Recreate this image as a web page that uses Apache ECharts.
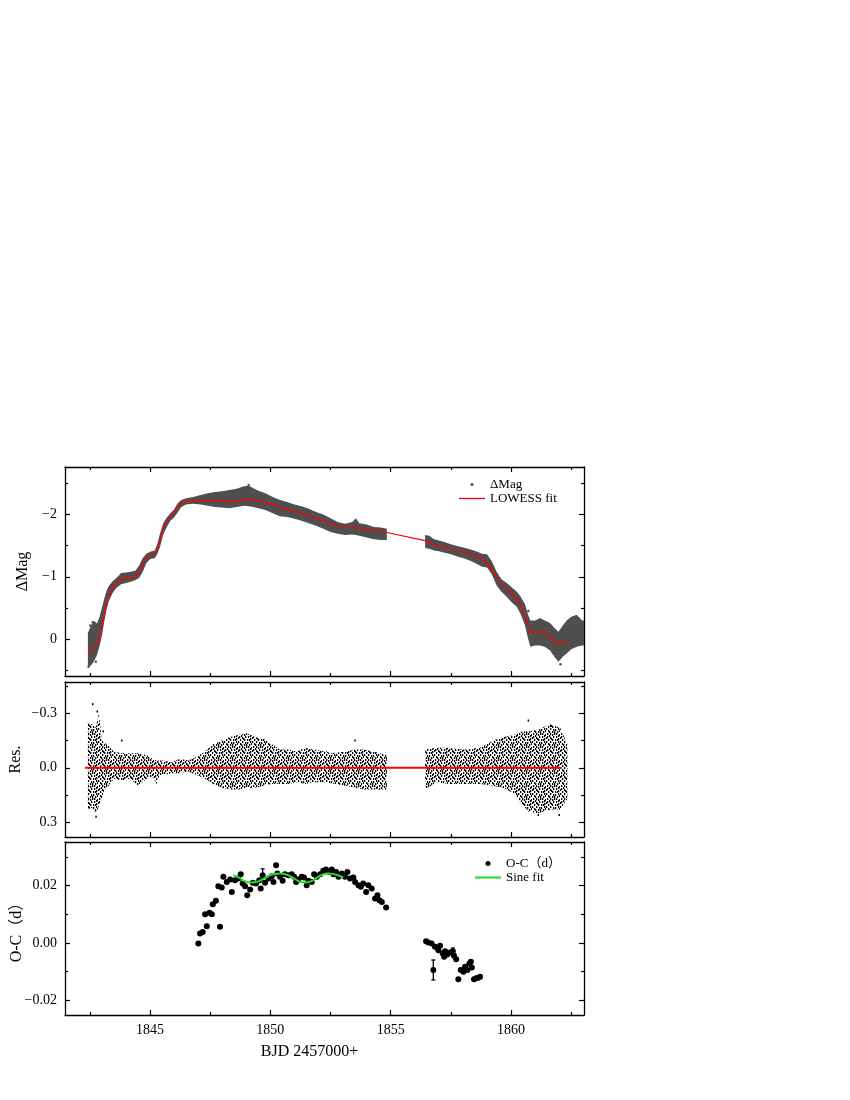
<!DOCTYPE html>
<html><head><meta charset="utf-8">
<script src="https://cdn.jsdelivr.net/npm/echarts@6.0.0/dist/echarts.min.js"></script>
<style>html,body{margin:0;padding:0;background:#fff}#c{width:850px;height:1100px}</style>
</head><body><div id="c"></div>
<script>
// ---------- tick labels ----------
const xTickLabels = [1845, 1850, 1855, 1860];
const xMinorTicks = [1842.5, 1847.5, 1852.5, 1857.5, 1862.5];
const magTicks = [-2, -1, 0];
const magMinorTicks = [-2.5, -1.5, -0.5, 0.5];
const resTicks = [-0.3, 0, 0.3];
const resMinorTicks = [-0.45, -0.15, 0.15];
const ocTicks = [-0.02, 0, 0.02];
const ocMinorTicks = [-0.01, 0.01, 0.03];

// ---------- panel 1: Delta Mag (envelope of dense points) ----------
const magBandT1 = [1842.42,1842.55,1842.68,1842.8,1842.9,1843.0,1843.1,1843.2,1843.3,1843.45,1843.6,1843.8,1844.0,1844.2,1844.4,1844.55,1844.7,1844.85,1845.0,1845.2,1845.3,1845.42,1845.55,1845.7,1845.85,1846.0,1846.15,1846.3,1846.5,1846.8,1847.1,1847.4,1847.7,1848.0,1848.3,1848.6,1848.9,1849.1,1849.3,1849.5,1849.8,1850.1,1850.4,1850.7,1851.0,1851.3,1851.6,1851.9,1852.2,1852.5,1852.8,1853.1,1853.4,1853.55,1853.7,1854.0,1854.3,1854.6,1854.84];
const magBandTop1 = [-0.10,-0.22,-0.29,-0.25,-0.35,-0.50,-0.65,-0.78,-0.86,-0.93,-0.98,-1.06,-1.07,-1.08,-1.10,-1.18,-1.30,-1.37,-1.40,-1.42,-1.52,-1.70,-1.86,-1.95,-2.02,-2.08,-2.18,-2.23,-2.26,-2.28,-2.31,-2.34,-2.36,-2.37,-2.39,-2.41,-2.45,-2.46,-2.42,-2.38,-2.34,-2.28,-2.23,-2.20,-2.16,-2.13,-2.09,-2.04,-2.00,-1.94,-1.88,-1.85,-1.88,-1.94,-1.86,-1.84,-1.80,-1.79,-1.77];
const magBandBot1 = [0.45,0.42,0.35,0.25,0.12,-0.05,-0.28,-0.48,-0.62,-0.74,-0.82,-0.88,-0.90,-0.92,-0.95,-0.98,-1.08,-1.22,-1.28,-1.30,-1.36,-1.48,-1.68,-1.80,-1.90,-1.95,-2.03,-2.12,-2.16,-2.17,-2.16,-2.14,-2.12,-2.11,-2.10,-2.12,-2.14,-2.13,-2.12,-2.10,-2.07,-2.02,-1.97,-1.96,-1.93,-1.90,-1.86,-1.82,-1.77,-1.72,-1.69,-1.67,-1.68,-1.67,-1.66,-1.63,-1.60,-1.59,-1.59];
const magBandT2 = [1856.43,1856.6,1856.8,1857.0,1857.2,1857.5,1857.8,1858.1,1858.4,1858.6,1858.8,1859.0,1859.2,1859.4,1859.6,1859.82,1860.0,1860.24,1860.4,1860.58,1860.7,1860.8,1861.0,1861.2,1861.4,1861.62,1861.8,1861.97,1862.15,1862.31,1862.5,1862.73,1862.95,1863.03];
const magBandTop2 = [-1.67,-1.66,-1.60,-1.58,-1.56,-1.52,-1.49,-1.46,-1.43,-1.40,-1.37,-1.36,-1.25,-1.08,-0.96,-0.90,-0.84,-0.76,-0.68,-0.56,-0.40,-0.30,-0.30,-0.34,-0.30,-0.26,-0.18,-0.12,-0.22,-0.30,-0.36,-0.39,-0.30,-0.30];
const magBandBot2 = [-1.46,-1.45,-1.42,-1.41,-1.39,-1.36,-1.32,-1.29,-1.24,-1.20,-1.16,-1.15,-1.04,-0.86,-0.76,-0.68,-0.60,-0.52,-0.40,-0.22,-0.02,0.12,0.10,0.10,0.12,0.18,0.28,0.36,0.28,0.23,0.16,0.12,0.10,0.10];
const magOutlierT = [1842.45,1842.52,1842.62,1842.75,1849.1,1860.72,1862.05];
const magOutlierV = [0.44,-0.22,-0.27,0.36,-2.47,-0.45,0.40];
const lowessT = [1842.44,1842.6,1842.72,1842.86,1842.92,1843.0,1843.06,1843.2,1843.41,1843.6,1843.76,1844.0,1844.31,1844.45,1844.59,1844.7,1844.8,1844.95,1845.21,1845.32,1845.42,1845.52,1845.63,1845.9,1846.05,1846.25,1846.5,1847.08,1847.77,1848.46,1848.8,1849.02,1849.43,1849.85,1850.2,1850.54,1851.23,1851.93,1852.62,1853.03,1853.8,1854.84,1856.43,1856.8,1857.2,1857.6,1858.3,1858.85,1859.13,1859.41,1859.82,1860.24,1860.4,1860.58,1860.79,1861.0,1861.2,1861.34,1861.62,1861.9,1862.24,1862.3];
const lowessV = [0.23,0.17,0.12,0.02,-0.06,-0.20,-0.32,-0.57,-0.79,-0.89,-0.95,-0.98,-1.00,-1.03,-1.09,-1.20,-1.29,-1.33,-1.36,-1.45,-1.59,-1.76,-1.86,-1.99,-2.06,-2.17,-2.21,-2.22,-2.22,-2.20,-2.22,-2.25,-2.22,-2.19,-2.15,-2.10,-2.03,-1.94,-1.83,-1.79,-1.78,-1.71,-1.58,-1.52,-1.47,-1.43,-1.37,-1.27,-1.16,-0.97,-0.81,-0.65,-0.55,-0.39,-0.12,-0.09,-0.13,-0.12,-0.06,0.07,0.06,0.05];

// ---------- panel 2: residuals (envelope) ----------
const resBandT1 = [1842.42,1842.6,1842.75,1842.88,1843.0,1843.1,1843.27,1843.5,1843.83,1844.17,1844.52,1844.86,1845.1,1845.28,1845.4,1845.55,1845.9,1846.25,1846.59,1846.94,1847.29,1847.63,1847.98,1848.33,1848.67,1849.02,1849.36,1849.71,1850.06,1850.4,1850.75,1851.1,1851.44,1851.79,1852.34,1852.48,1853.17,1853.52,1853.86,1854.28,1854.84];
const resBandTop1 = [-0.25,-0.24,-0.22,-0.30,-0.15,-0.14,-0.12,-0.09,-0.08,-0.08,-0.08,-0.07,-0.05,-0.04,-0.04,-0.04,-0.03,-0.05,-0.04,-0.06,-0.09,-0.13,-0.15,-0.17,-0.18,-0.19,-0.17,-0.16,-0.13,-0.10,-0.10,-0.09,-0.11,-0.10,-0.09,-0.08,-0.09,-0.10,-0.10,-0.09,-0.07];
const resBandBot1 = [0.23,0.22,0.25,0.21,0.17,0.12,0.10,0.06,0.07,0.06,0.10,0.06,0.05,0.09,0.04,0.04,0.03,0.03,0.02,0.04,0.06,0.09,0.11,0.12,0.12,0.11,0.11,0.10,0.09,0.09,0.09,0.08,0.09,0.08,0.08,0.085,0.10,0.11,0.12,0.12,0.12];
const resBandT2 = [1856.43,1856.91,1857.4,1858.02,1858.71,1859.26,1859.68,1860.1,1860.44,1860.72,1861.13,1861.62,1862.04,1862.34];
const resBandTop2 = [-0.10,-0.11,-0.11,-0.10,-0.11,-0.15,-0.17,-0.18,-0.20,-0.20,-0.21,-0.24,-0.22,-0.13];
const resBandBot2 = [0.12,0.08,0.09,0.09,0.09,0.10,0.11,0.14,0.20,0.24,0.25,0.23,0.23,0.17];
const resOutlierT = [1842.62,1842.81,1842.76,1842.48,1843.06,1843.83,1853.52,1860.72,1861.65,1861.13,1862.0];
const resOutlierV = [-0.35,-0.31,0.27,0.22,-0.20,-0.15,-0.15,-0.26,-0.23,0.26,0.26];
const resZeroT = [1842.3, 1862.1];
const resZeroV = [0, 0];

// ---------- panel 3: O-C ----------
const ocT = [1847.01,1847.08,1847.19,1847.36,1847.29,1847.47,1847.57,1847.61,1847.74,1847.91,1847.84,1847.98,1848.05,1848.19,1848.4,1848.33,1848.53,1848.67,1848.77,1848.85,1848.95,1849.04,1849.16,1849.27,1849.41,1849.54,1849.6,1849.68,1849.78,1849.92,1850.06,1850.13,1850.24,1850.29,1850.4,1850.51,1850.61,1850.75,1850.89,1850.99,1851.07,1851.16,1851.3,1851.4,1851.51,1851.58,1851.72,1851.82,1851.93,1852.07,1852.2,1852.31,1852.45,1852.55,1852.62,1852.73,1852.83,1852.97,1853.1,1853.2,1853.31,1853.45,1853.52,1853.66,1853.76,1853.86,1853.98,1854.07,1854.21,1854.35,1854.45,1854.53,1854.63,1854.81,
  1856.47,1856.56,1856.7,1856.77,1856.84,1856.98,1857.05,1857.16,1857.26,1857.22,1857.35,1857.47,1857.58,1857.63,1857.72,1857.81,1857.91,1858.02,1858.09,1858.19,1858.27,1858.33,1858.37,1858.46,1858.55,1858.64,1858.71];
const ocV = [-0.0002,0.0033,0.0038,0.0058,0.0100,0.0105,0.0100,0.0135,0.0147,0.0056,0.0198,0.0194,0.0231,0.0213,0.0178,0.0222,0.0219,0.0225,0.0240,0.0208,0.0198,0.0167,0.0187,0.0210,0.0208,0.0219,0.0190,0.0237,0.0210,0.0225,0.0233,0.0213,0.0272,0.0243,0.0231,0.0217,0.0240,0.0237,0.0240,0.0231,0.0213,0.0222,0.0231,0.0229,0.0202,0.0217,0.0213,0.0240,0.0231,0.0240,0.0252,0.0257,0.0248,0.0257,0.0240,0.0248,0.0231,0.0243,0.0231,0.0248,0.0225,0.0229,0.0213,0.0202,0.0196,0.0208,0.0178,0.0202,0.0190,0.0155,0.0167,0.0149,0.0143,0.0124,
  0.0006,0.0001,-0.0002,-0.0095,-0.0014,-0.0026,-0.0010,-0.0037,-0.0029,-0.0049,-0.0041,-0.0034,-0.0029,-0.0045,-0.0057,-0.0127,-0.0095,-0.0101,-0.0084,-0.0095,-0.0072,-0.0066,-0.0086,-0.0127,-0.0124,-0.0122,-0.0119];
const ocErrT = [1849.68, 1856.77, 1857.58];
const ocErrLo = [0.0218, -0.0130, -0.0042];
const ocErrHi = [0.0259, -0.0060, -0.0018];
const sineT = [1848.46,1848.7,1848.95,1849.23,1849.5,1849.8,1850.1,1850.4,1850.7,1851.0,1851.2,1851.44,1851.7,1851.95,1852.2,1852.41,1852.7,1853.03];
const sineV = [0.0237,0.0228,0.0215,0.0211,0.0215,0.0228,0.0240,0.0243,0.0238,0.0225,0.0215,0.0211,0.0216,0.0229,0.0240,0.0243,0.0239,0.0229];

// ---------- build ----------
const FONT = "'Liberation Serif','Noto Sans CJK SC',serif";
const X_MIN = 1841.47, X_MAX = 1863.03;
const zip = (a, b) => a.map((v, i) => [v, b[i]]);
const minus = s => s.replace('-', '\u2212');

const grids = [
  {left: 65, right: 266, top: 467, height: 209, outerBoundsMode: 'none', containLabel: false},
  {left: 65, right: 266, top: 682, height: 155, outerBoundsMode: 'none', containLabel: false},
  {left: 65, right: 266, top: 842, height: 173, outerBoundsMode: 'none', containLabel: false}
];
const yDefs = [
  {min: -2.76, max: 0.59, inverse: true, major: magTicks, minor: magMinorTicks,
   fmt: v => minus(String(v)), name: '\u0394Mag', gap: 34},
  {min: -0.472, max: 0.381, inverse: true, major: resTicks, minor: resMinorTicks,
   fmt: v => minus(v.toFixed(1)), name: 'Res.', gap: 41},
  {min: -0.02525, max: 0.0353, inverse: false, major: ocTicks, minor: ocMinorTicks,
   fmt: v => minus(v.toFixed(2)), name: 'O-C\uff08d\uff09', gap: 40}
];

function axis(gi, min, max, pos, ticks, len, showLine, labels, fmt, inverse) {
  return {
    type: 'value', gridIndex: gi, min: min, max: max, position: pos, inverse: !!inverse,
    axisLine: {show: showLine, onZero: false, lineStyle: {color: '#000', width: 1.3}},
    axisTick: {show: true, inside: true, length: len, customValues: ticks, lineStyle: {color: '#000', width: 1.2}},
    axisLabel: {show: !!labels, customValues: labels || [], formatter: fmt,
      color: '#000', fontSize: 14, fontFamily: FONT, margin: 8},
    splitLine: {show: false}, minorTick: {show: false}, splitArea: {show: false}
  };
}

const xAxes = [], yAxes = [];
grids.forEach((g, gi) => {
  const xb = axis(gi, X_MIN, X_MAX, 'bottom', xTickLabels, 5, true, gi === 2 ? xTickLabels : null, v => String(v));
  if (gi === 2) {
    xb.name = 'BJD 2457000+';
    xb.nameLocation = 'middle';
    xb.nameGap = 29;
    xb.nameMoveOverlap = false;
    xb.nameTextStyle = {fontSize: 16, fontFamily: FONT, color: '#000', padding: [0, 30, 0, 0]};
  }
  xAxes.push(xb);
  xAxes.push(axis(gi, X_MIN, X_MAX, 'bottom', xMinorTicks, 3, false));
  xAxes.push(axis(gi, X_MIN, X_MAX, 'top', xTickLabels, 5, true));
  xAxes.push(axis(gi, X_MIN, X_MAX, 'top', xMinorTicks, 3, false));
  const d = yDefs[gi];
  const yl = axis(gi, d.min, d.max, 'left', d.major, 5, true, d.major, d.fmt, d.inverse);
  yl.name = d.name; yl.nameLocation = 'middle'; yl.nameGap = d.gap; yl.nameMoveOverlap = false;
  yl.nameTextStyle = {fontSize: 16, fontFamily: FONT, color: '#000'};
  yAxes.push(yl);
  yAxes.push(axis(gi, d.min, d.max, 'left', d.minor, 3, false, null, null, d.inverse));
  yAxes.push(axis(gi, d.min, d.max, 'right', d.major, 5, true, null, null, d.inverse));
  yAxes.push(axis(gi, d.min, d.max, 'right', d.minor, 3, false, null, null, d.inverse));
});

// dotted texture for the residual cloud (style only)
const DOTS = [[0,0],[4,0],[9,1],[12,0],[2,2],[6,3],[11,3],[1,5],[4,5],[8,5],[13,6],[3,7],[7,8],[10,8],[0,9],[5,10],[12,10],[9,11],[2,11],[6,6],[13,2],[7,1],[10,5],[1,8],[4,9],[11,11],[8,3],[3,3],[12,7],[6,11]];
function dotPattern() {
  const c = document.createElement('canvas');
  c.width = 14; c.height = 13;
  const g = c.getContext('2d');
  g.fillStyle = '#000';
  DOTS.forEach(([x, y]) => g.fillRect(x, y, 1.3, 2));
  return c;
}
const PAT = {image: dotPattern(), repeat: 'repeat'};

function bandSeries(gi, T, top, bot, fill, z) {
  return {
    type: 'custom', xAxisIndex: gi * 4, yAxisIndex: gi * 4, silent: true, z: z,
    data: [[T[0], top[0]]],
    renderItem: function (params, api) {
      const pts = [];
      for (let i = 0; i < T.length; i++) pts.push(api.coord([T[i], top[i]]));
      for (let i = T.length - 1; i >= 0; i--) pts.push(api.coord([T[i], bot[i]]));
      return {type: 'polygon', shape: {points: pts}, style: {fill: fill, stroke: null}};
    }
  };
}

const series = [
  bandSeries(0, magBandT1, magBandTop1, magBandBot1, '#4f4f4f', 2),
  bandSeries(0, magBandT2, magBandTop2, magBandBot2, '#4f4f4f', 2),
  {name: '\u0394Mag', type: 'scatter', xAxisIndex: 0, yAxisIndex: 0, data: zip(magOutlierT, magOutlierV),
   symbolSize: 2.5, itemStyle: {color: '#4f4f4f', opacity: 1}, z: 3, silent: true},
  {name: 'LOWESS fit', type: 'line', xAxisIndex: 0, yAxisIndex: 0, data: zip(lowessT, lowessV),
   symbol: 'none', smooth: false, lineStyle: {color: '#ff0000', width: 1.2}, itemStyle: {color: '#ff0000'}, z: 5, silent: true},

  bandSeries(1, resBandT1, resBandTop1, resBandBot1, PAT, 2),
  bandSeries(1, resBandT2, resBandTop2, resBandBot2, PAT, 2),
  {type: 'scatter', xAxisIndex: 4, yAxisIndex: 4, data: zip(resOutlierT, resOutlierV),
   symbol: 'rect', symbolSize: [1.5, 2], itemStyle: {color: '#000', opacity: 1}, z: 3, silent: true},
  {type: 'line', xAxisIndex: 4, yAxisIndex: 4, data: zip(resZeroT, resZeroV), symbol: 'none',
   lineStyle: {color: '#ff0000', width: 2}, z: 5, silent: true},

  {type: 'custom', xAxisIndex: 8, yAxisIndex: 8, silent: true, z: 3,
   data: ocErrT.map((t, i) => [t, ocErrLo[i], ocErrHi[i]]),
   encode: {x: 0, y: [1, 2]},
   renderItem: function (params, api) {
     const x = api.value(0);
     const p1 = api.coord([x, api.value(1)]), p2 = api.coord([x, api.value(2)]);
     const st = {stroke: '#000', lineWidth: 1.3};
     return {type: 'group', children: [
       {type: 'line', shape: {x1: p1[0], y1: p1[1], x2: p2[0], y2: p2[1]}, style: st},
       {type: 'line', shape: {x1: p1[0] - 2, y1: p1[1], x2: p1[0] + 2, y2: p1[1]}, style: st},
       {type: 'line', shape: {x1: p2[0] - 2, y1: p2[1], x2: p2[0] + 2, y2: p2[1]}, style: st}
     ]};
   }},
  {name: 'O-C\uff08d\uff09', type: 'scatter', xAxisIndex: 8, yAxisIndex: 8, data: zip(ocT, ocV),
   symbolSize: 6, itemStyle: {color: '#000', opacity: 1}, z: 4, silent: true},
  {name: 'Sine fit', type: 'line', xAxisIndex: 8, yAxisIndex: 8, data: zip(sineT, sineV),
   symbol: 'none', smooth: 0.5, lineStyle: {color: '#22dd22', width: 2}, itemStyle: {color: '#22dd22'}, z: 5, silent: true}
];

const legTxt = {fontSize: 13, fontFamily: FONT, color: '#000'};
const legendBase = {orient: 'vertical', padding: 0, itemWidth: 26, selectedMode: false, textStyle: legTxt, itemGap: 0};
const option = {
  animation: false,
  backgroundColor: '#fff',
  grid: grids,
  xAxis: xAxes,
  yAxis: yAxes,
  legend: [
    Object.assign({}, legendBase, {data: [{name: '\u0394Mag', icon: 'circle'}], left: 470.5, top: 478, itemHeight: 3}),
    Object.assign({}, legendBase, {data: [{name: 'LOWESS fit', icon: 'rect'}], left: 459, top: 492, itemHeight: 1.3}),
    Object.assign({}, legendBase, {data: [{name: 'O-C\uff08d\uff09', icon: 'circle'}], left: 485.5, top: 857, itemHeight: 5}),
    Object.assign({}, legendBase, {data: [{name: 'Sine fit', icon: 'rect'}], left: 475, top: 871, itemHeight: 2})
  ],
  series: series
};
const chart = echarts.init(document.getElementById('c'), null, {renderer: 'canvas'});
chart.setOption(option);
</script></body></html>
